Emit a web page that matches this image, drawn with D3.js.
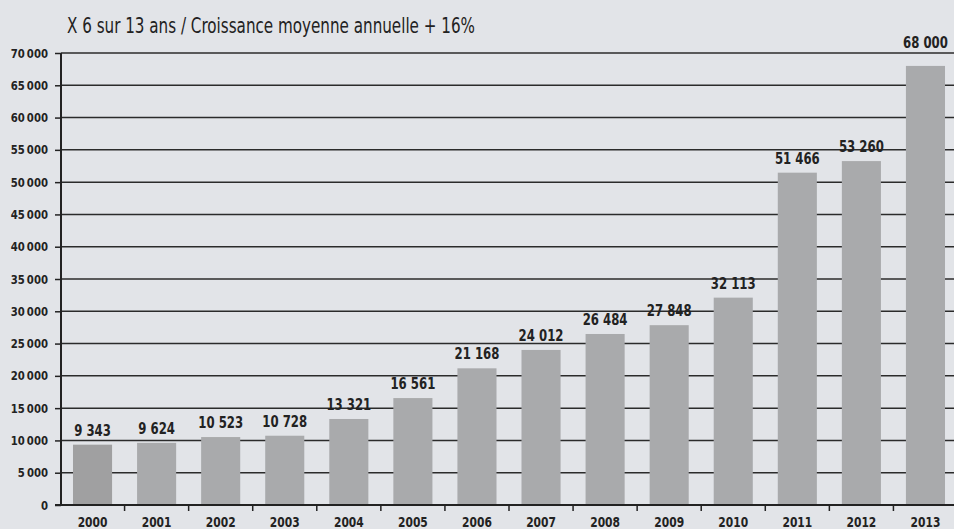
<!DOCTYPE html>
<html><head><meta charset="utf-8">
<script src="https://cdn.jsdelivr.net/npm/d3@7"></script>
<style>
html,body{margin:0;padding:0;background:#e2e4e8;}
svg{display:block;}
text{font-family:"Liberation Sans Narrow","DejaVu Sans Condensed",sans-serif;fill:#222;}
</style></head>
<body>
<svg id="c" width="954" height="529"></svg>
<script>
const years = ["2000","2001","2002","2003","2004","2005","2006","2007","2008","2009","2010","2011","2012","2013"];
const values = [9343,9624,10523,10728,13321,16561,21168,24012,26484,27848,32113,51466,53260,68000];
const valueLabels = ["9 343","9 624","10 523","10 728","13 321","16 561","21 168","24 012","26 484","27 848","32 113","51 466","53 260","68 000"];
const yTicks = [0,5000,10000,15000,20000,25000,30000,35000,40000,45000,50000,55000,60000,65000,70000];
const title = "X 6 sur 13 ans / Croissance moyenne annuelle + 16%";

(function(){
const svg = d3.select("#c");
const W = 954;
const mLeft = 61, mTop = 53, mBottom = 505;
const x = d3.scaleBand().domain(years).range([60.5, 957.5]).paddingInner(0.39).paddingOuter(0.195);
const y = d3.scaleLinear().domain([0,70000]).range([mBottom, mTop]);
const fmt = v => v === 0 ? "0" : d3.format(",")(v).replace(/,/g, "\u2009");
function squeeze(sel, k){
  sel.each(function(){
    const L = this.getComputedTextLength();
    d3.select(this).attr("textLength", L*k).attr("lengthAdjust","spacingAndGlyphs");
  });
}

svg.append("rect").attr("width",W).attr("height",529).attr("fill","#e2e4e8");

// title
const t = svg.append("text").attr("x",67).attr("y",33).attr("font-size",20.5).attr("fill","#1e1e1e").text(title);
t.attr("textLength",408).attr("lengthAdjust","spacingAndGlyphs");

// gridlines
svg.append("g").selectAll("line").data(yTicks.filter(d=>d>0)).join("line")
  .attr("x1",mLeft).attr("x2",W).attr("y1",d=>y(d)).attr("y2",d=>y(d))
  .attr("stroke","#2b2b2b").attr("stroke-width",1.5);

// bars
svg.append("g").selectAll("rect").data(values).join("rect")
  .attr("x",(d,i)=>x(years[i])).attr("width",x.bandwidth())
  .attr("y",d=>y(d)).attr("height",d=>y(0)-y(d))
  .attr("fill",(d,i)=>i===0?"#a0a0a1":"#a9aaac");

// value labels (kept clear of the top gridline)
const vl = svg.append("g").selectAll("text").data(values).join("text")
  .attr("x",(d,i)=>x(years[i])+x.bandwidth()/2)
  .attr("y",d=>{ const p = y(d)-9; return (p-12 < mTop && p > mTop) ? mTop-5 : p; })
  .attr("text-anchor","middle").attr("font-size",15.5).attr("font-weight","bold")
  .text((d,i)=>valueLabels[i]);
squeeze(vl, 0.84);

// y axis
const ya = d3.axisLeft(y).tickValues(yTicks).tickFormat(fmt).tickSize(6).tickPadding(7);
const gy = svg.append("g").attr("transform",`translate(${mLeft},0)`).call(ya);
gy.select(".domain").remove();
gy.selectAll("line").attr("stroke","#222").attr("stroke-width",1.5);
gy.selectAll("text").attr("font-size",12.5).attr("font-weight","bold").attr("fill","#2a2a2a").attr("font-family",null);
squeeze(gy.selectAll("text"), 0.9);
svg.append("line").attr("x1",mLeft).attr("x2",mLeft).attr("y1",mTop).attr("y2",mBottom+1)
  .attr("stroke","#222").attr("stroke-width",2);

// x axis
const xa = d3.axisBottom(x).tickSize(0).tickPadding(0);
const gx = svg.append("g").attr("transform",`translate(0,${mBottom})`).call(xa);
gx.select(".domain").remove();
gx.selectAll("text").attr("dy",null).attr("y",22).attr("font-size",14.5).attr("font-weight","bold").attr("fill","#2a2a2a").attr("font-family",null);
squeeze(gx.selectAll("text"), 0.82);
svg.append("line").attr("x1",mLeft-6).attr("x2",W).attr("y1",mBottom).attr("y2",mBottom)
  .attr("stroke","#222").attr("stroke-width",2);
// boundary ticks between bands
const step = x.step();
svg.append("g").selectAll("line").data(years).join("line")
  .attr("x1",d=>x(d)+x.bandwidth()+(step-x.bandwidth())/2)
  .attr("x2",d=>x(d)+x.bandwidth()+(step-x.bandwidth())/2)
  .attr("y1",mBottom).attr("y2",mBottom+6)
  .attr("stroke","#222").attr("stroke-width",1.5);
})();
</script>
</body></html>
